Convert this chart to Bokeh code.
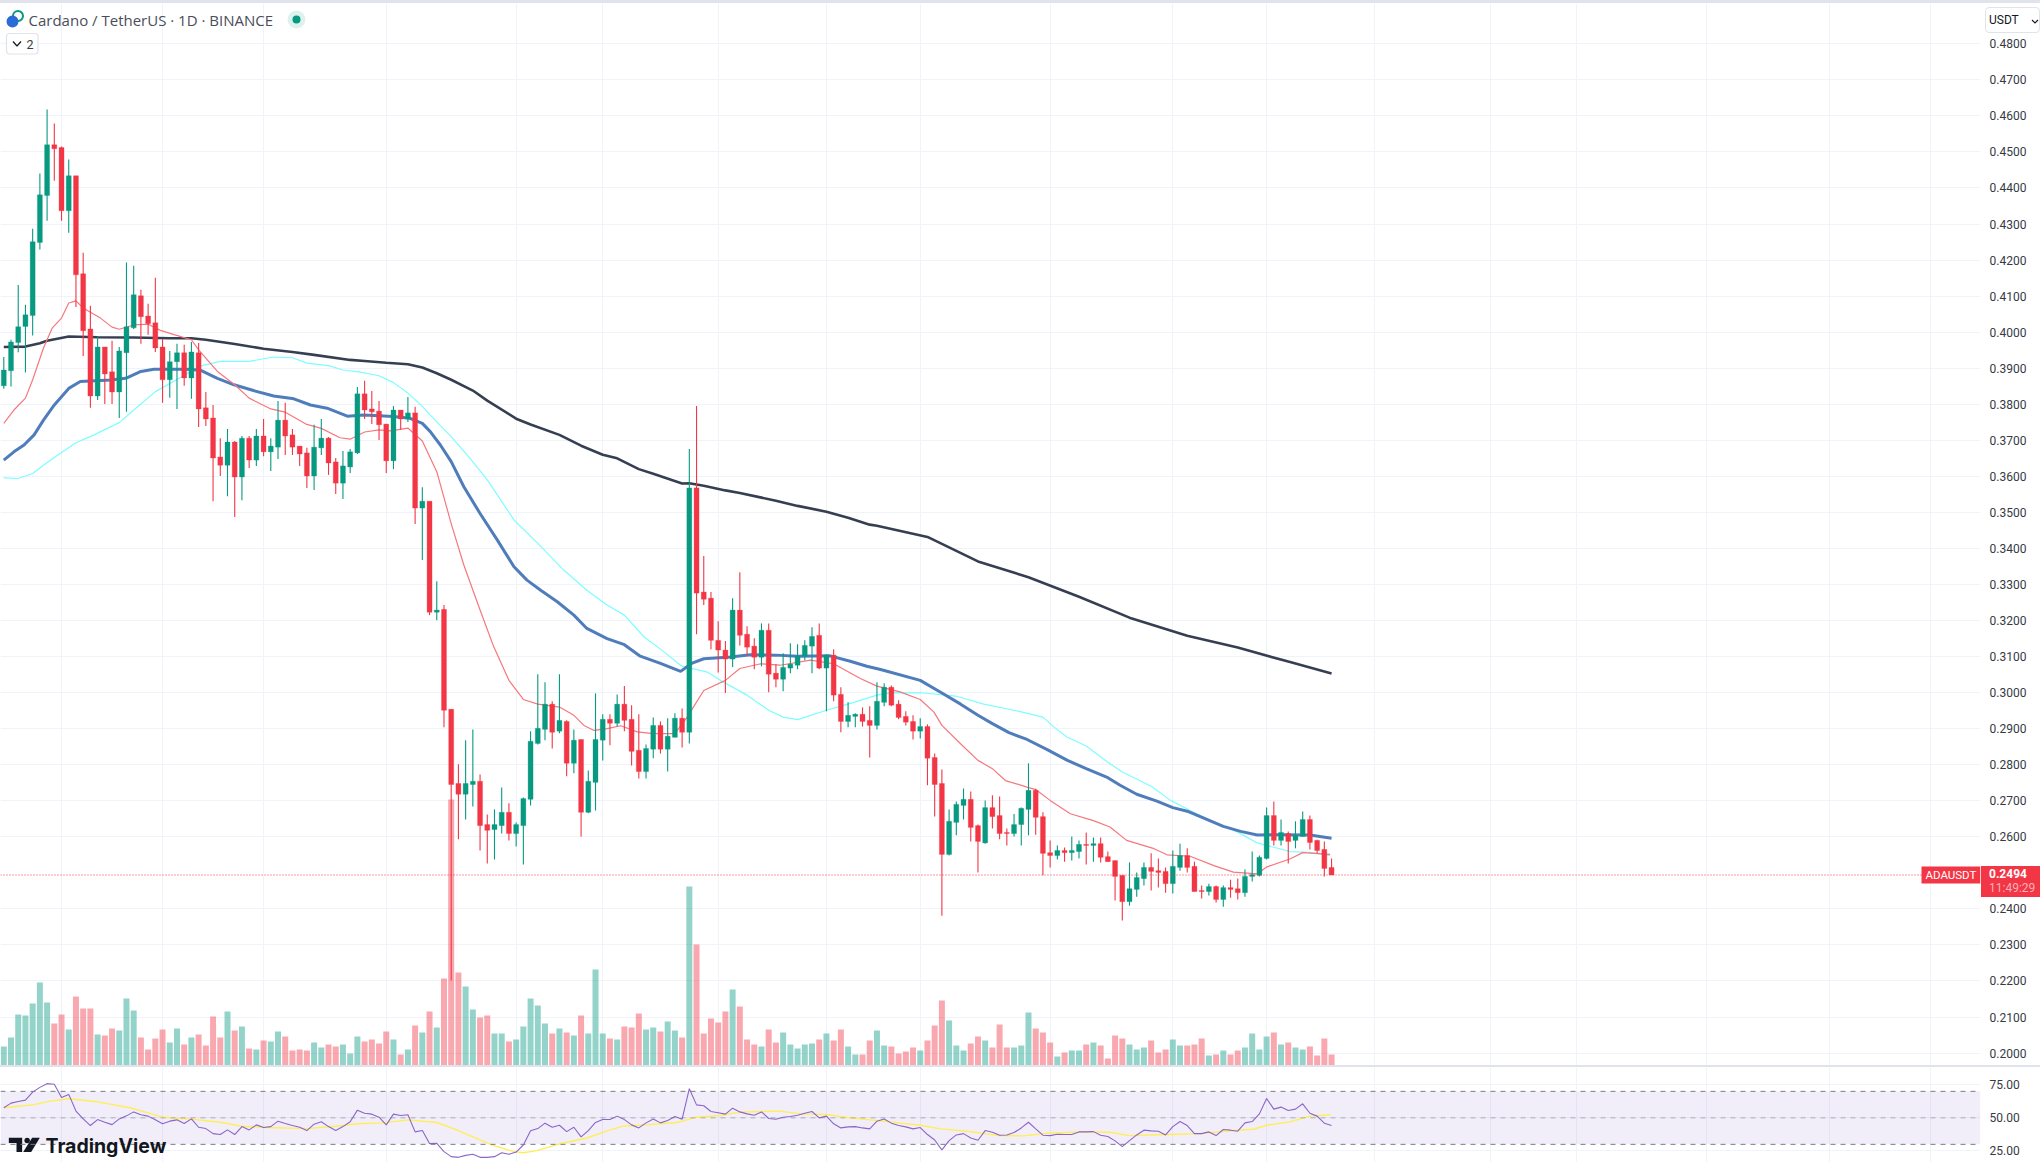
from bokeh.plotting import figure
from bokeh.layouts import column
from bokeh.models import (Range1d, FixedTicker, NumeralTickFormatter, Span, BoxAnnotation, Label, Spacer, Div)
from bokeh.embed import file_html
from bokeh.resources import INLINE
import numpy as np

opens = [.3851,.3893,.3971,.4016,.4046,.4249,.4379,.4520,.4512,.4337,.4434,.4162,.4009,.3823,.3959,.3890,.3834,.3943,.4012,.4101,
 .4045,.4026,.3959,.3868,.3918,.3943,.3873,.3943,.3790,.3762,.3654,.3631,.3695,.3598,.3706,.3645,.3712,.3668,.3681,.3756,
 .3715,.3684,.3665,.3601,.3679,.3706,.3640,.3581,.3626,.3665,.3829,.3787,.3781,.3745,.3643,.3784,.3759,.3776,.3512,.3531,
 .3223,.3231,.2954,.2748,.2718,.2745,.2754,.2634,.2620,.2631,.2668,.2609,.2631,.2704,.2859,.2898,.2968,.2893,.2920,.2804,
 .2870,.2668,.2751,.2868,.2926,.2915,.2968,.2926,.2840,.2781,.2843,.2909,.2843,.2876,.2929,.2890,.3568,.3279,.3262,.3145,
 .3118,.3093,.3229,.3162,.3129,.3098,.3173,.3054,.3037,.3068,.3076,.3101,.3129,.3159,.3068,.3104,.2995,.2920,.2934,.2940,
 .2923,.2909,.2973,.3015,.2968,.2934,.2920,.2893,.2906,.2820,.2748,.2551,.2640,.2687,.2704,.2631,.2583,.2681,.2659,.2612,
 .2609,.2634,.2676,.2729,.2656,.2556,.2548,.2562,.2556,.2559,.2579,.2576,.2581,.2545,.2534,.2493,.2420,.2454,.2484,.2515,
 .2506,.2504,.2470,.2515,.2548,.2518,.2451,.2448,.2462,.2426,.2459,.2456,.2445,.2490,.2493,.2540,.2659,.2590,.2609,.2590,
 .2601,.2648,.2590,.2565,.2515]
highs = [.3931,.3979,.4131,.4076,.4287,.4440,.4618,.4579,.4515,.4479,.4434,.4220,.4073,.3988,.3959,.3976,.3959,.4193,.4184,.4118,
 .4079,.4151,.3981,.3948,.3968,.3965,.3973,.3970,.3834,.3798,.3706,.3731,.3698,.3712,.3712,.3731,.3759,.3706,.3809,.3804,
 .3731,.3684,.3679,.3743,.3759,.3709,.3651,.3670,.3676,.3848,.3865,.3837,.3809,.3745,.3795,.3784,.3820,.3793,.3570,.3531,
 .3309,.3243,.2954,.2801,.2868,.2898,.2773,.2662,.2676,.2737,.2693,.2640,.2709,.2893,.3051,.3029,.2976,.3051,.2923,.2898,
 .2870,.2784,.2998,.2940,.2940,.2995,.3018,.2965,.2940,.2856,.2931,.2920,.2929,.2943,.2956,.3676,.3795,.3379,.3279,.3198,
 .3143,.3262,.3334,.3184,.3151,.3192,.3192,.3079,.3109,.3137,.3134,.3145,.3181,.3192,.3106,.3120,.3015,.2973,.2943,.2959,
 .2962,.3029,.3026,.3020,.2979,.2948,.2937,.2929,.2912,.2831,.2787,.2676,.2698,.2734,.2726,.2634,.2701,.2715,.2712,.2623,
 .2663,.2681,.2804,.2733,.2668,.2590,.2576,.2570,.2601,.2590,.2612,.2598,.2598,.2559,.2534,.2493,.2529,.2501,.2529,.2554,
 .2540,.2515,.2562,.2581,.2568,.2531,.2465,.2470,.2465,.2465,.2481,.2484,.2509,.2559,.2548,.2681,.2698,.2648,.2615,.2643,
 .2670,.2659,.2592,.2587,.2540]
lows = [.3843,.3849,.3944,.3888,.3991,.4229,.4309,.4420,.4309,.4276,.4070,.3934,.3790,.3812,.3801,.3801,.3762,.3779,.4009,.3968,
 .3993,.3945,.3804,.3818,.3787,.3851,.3815,.3737,.3740,.3531,.3601,.3545,.3487,.3534,.3623,.3629,.3656,.3615,.3648,.3659,
 .3659,.3629,.3568,.3562,.3659,.3604,.3551,.3537,.3609,.3662,.3759,.3745,.3701,.3609,.3620,.3729,.3751,.3468,.3368,.3215,
 .3201,.2904,.2201,.2593,.2648,.2684,.2562,.2526,.2537,.2609,.2590,.2573,.2523,.2687,.2856,.2868,.2845,.2887,.2768,.2776,
 .2601,.2665,.2673,.2812,.2854,.2906,.2893,.2798,.2762,.2762,.2818,.2831,.2781,.2876,.2848,.2859,.3162,.3243,.3120,.3056,
 .2999,.3071,.3131,.3103,.3065,.3073,.3001,.3015,.3004,.3054,.3065,.3090,.3054,.3065,.2948,.2976,.2890,.2904,.2904,.2906,
 .2820,.2898,.2962,.2962,.2926,.2909,.2870,.2873,.2743,.2656,.2381,.2548,.2604,.2648,.2587,.2501,.2581,.2623,.2593,.2576,
 .2601,.2576,.2604,.2606,.2493,.2515,.2537,.2531,.2534,.2540,.2523,.2531,.2529,.2531,.2423,.2368,.2409,.2434,.2465,.2451,
 .2459,.2445,.2443,.2506,.2501,.2448,.2429,.2437,.2418,.2406,.2431,.2426,.2434,.2476,.2490,.2537,.2576,.2576,.2526,.2568,
 .2601,.2565,.2554,.2490,.2494]
closes = [.3895,.3973,.4015,.4048,.4251,.4381,.4520,.4509,.4337,.4434,.4159,.4004,.3823,.3959,.3884,.3834,.3948,.4015,.4104,.4043,
 .4023,.3956,.3868,.3918,.3943,.3873,.3945,.3787,.3759,.3651,.3631,.3695,.3598,.3706,.3645,.3712,.3668,.3684,.3756,.3712,
 .3681,.3662,.3601,.3681,.3706,.3637,.3581,.3629,.3668,.3829,.3784,.3779,.3743,.3643,.3784,.3759,.3776,.3512,.3531,.3223,
 .3229,.2951,.2745,.2718,.2748,.2754,.2631,.2618,.2634,.2668,.2609,.2634,.2706,.2865,.2901,.2968,.2890,.2923,.2804,.2868,
 .2668,.2754,.2870,.2926,.2915,.2968,.2923,.2837,.2781,.2845,.2909,.2843,.2879,.2929,.2890,.3568,.3276,.3259,.3145,.3118,
 .3093,.3229,.3159,.3126,.3098,.3173,.3051,.3037,.3070,.3079,.3101,.3131,.3156,.3068,.3104,.2993,.2920,.2937,.2940,.2920,
 .2909,.2976,.3015,.2965,.2931,.2918,.2893,.2906,.2818,.2745,.2551,.2643,.2690,.2704,.2626,.2587,.2681,.2656,.2609,.2609,
 .2634,.2679,.2729,.2654,.2554,.2548,.2562,.2556,.2562,.2579,.2576,.2581,.2543,.2531,.2490,.2420,.2456,.2487,.2515,.2504,
 .2501,.2470,.2518,.2548,.2515,.2448,.2448,.2462,.2426,.2459,.2454,.2445,.2490,.2495,.2543,.2659,.2590,.2612,.2587,.2604,
 .2648,.2584,.2562,.2512,.2494]
volumes = [57,84,153,150,186,249,189,126,153,108,207,171,171,93,90,111,105,201,165,84,
 48,81,108,69,111,63,84,93,60,147,84,162,105,117,51,48,75,72,102,87,
 45,48,45,69,54,63,57,63,36,87,72,78,66,102,78,33,48,120,99,162,
 114,261,798,279,237,168,144,150,96,96,72,78,117,201,180,126,96,111,99,90,
 150,96,288,96,81,78,117,114,156,108,114,102,132,105,84,537,363,96,141,129,
 162,228,177,78,63,57,108,69,99,63,51,63,66,78,96,75,108,57,33,33,
 75,105,60,57,36,42,54,45,75,120,195,135,60,45,66,87,75,54,123,54,
 54,60,159,111,99,69,27,39,45,45,63,69,60,21,90,81,63,48,54,75,
 39,48,78,60,60,63,81,30,33,45,33,45,54,96,48,87,99,63,69,54,
 48,57,30,81,33]

dark_days = [0,3,5,6,9,13,18,23,26,28,32,36,40,43,48,50,53,56,58,60,62,65,67,71,73,77,80,83,85,88,90,94,95,97,100,102,105,107,110,114,117,120,121,128,135,142,149,156,164,171,178,184]
dark_ma = [.3959,.3960,.3969,.3976,.3988,.3986,.3985,.3983,.3983,.3979,.3967,.3954,.3945,.3937,.3923,.3920,.3915,.3911,.3902,.3886,.3868,.3838,.3810,.3760,.3744,.3715,.3685,.3660,.3650,.3620,.3607,.3580,.3581,.3574,.3561,.3554,.3541,.3532,.3518,.3502,.3485,.3466,.3463,.3432,.3364,.3320,.3266,.3208,.3158,.3125,.3086,.3053]
blue_days = [0,1.4,2.8,4.2,5.5,7,9,10.6,14.8,16.9,19,20.8,25.4,27.3,29.6,31.9,34.6,37.4,40.2,42.5,44.8,47.6,49.9,54,56.3,58,59.1,60.5,62,63.75,66,68.4,70.7,72.5,74.4,76.7,79,80.8,83.6,86,88.2,91,93.8,95.4,97,100.7,103.5,107,110,114.5,117.3,119.6,121.5,127,130,132.6,135,137,139.3,141.8,144.6,147.4,150,153,154.7,157,159.8,162,164,166.3,169,171.4,173.7,176,181,184]
blue_ma = [.3645,.3668,.3687,.3715,.3756,.3798,.3844,.3863,.3867,.3872,.3891,.3897,.3897,.3894,.3872,.3854,.3838,.3823,.3815,.3798,.3789,.3767,.3770,.3766,.3761,.3747,.3724,.3687,.3641,.3571,.3497,.3423,.3349,.3312,.3284,.3252,.3215,.3178,.3150,.3133,.3101,.3081,.3059,.3082,.3094,.3099,.3105,.3104,.3101,.3102,.3087,.3073,.3064,.3034,.2999,.2968,.2937,.2914,.2889,.2870,.2842,.2812,.2789,.2764,.2743,.2718,.2699,.2681,.2671,.2652,.2629,.2615,.2605,.2606,.2605,.2596]
cyan_days = [0,2,4,5.5,7,10,12.5,16,17.5,21,24.5,27,30,34,37.4,40,42,45,47,49.4,52,54,56,58,59.1,62,64.7,67,70.7,74,77.6,80.8,83.6,86,88.7,91.5,93.9,97.5,99.3,103,106,108,110,111.8,114,117,121,122.9,127.5,132,135.8,140,144,145.5,147.3,150,153,155,159,161.7,164.4,167.7,171,173.7,176,178.3,181,183.8]
cyan_ma = [.3596,.3594,.3608,.3631,.3652,.3693,.3715,.3749,.3775,.3835,.3874,.3905,.3919,.3919,.3931,.3929,.3914,.3907,.3895,.3889,.3879,.3860,.3831,.3794,.3770,.3710,.3648,.3590,.3479,.3414,.3340,.3284,.3243,.3215,.3155,.3113,.3074,.3057,.3034,.2993,.2951,.2932,.2925,.2937,.2951,.2968,.2993,.3000,.2999,.2990,.2968,.2951,.2932,.2905,.2877,.2852,.2807,.2780,.2740,.2701,.2673,.2641,.2613,.2583,.2571,.2559,.2557,.2548]
red_days = [0,1.4,3,4,5.5,6.7,8,9,10,11,12,13.4,15,16,18,20,21.7,23.6,26,27,29.6,32,34,37,39,42,44,46.6,48,50,52,53.6,56,58,60,62,63.75,66,67.9,70,72,74,77,79,80.4,81.8,83.6,85.5,87.8,90,93,94.7,97,100,102,104.9,107.6,111.8,115,118.7,121,124.2,127,128.9,130,132.8,135,137,138.8,141.8,143,145,147.8,151,153.3,155.6,159.4,161.2,164.4,167.7,170.4,173.7,175,178.3,180,183.8]
red_ma = [.3747,.3784,.3817,.3868,.3956,.4011,.4039,.4081,.4087,.4067,.4055,.4039,.4014,.4008,.4020,.4022,.4005,.3993,.3979,.3951,.3891,.3854,.3817,.3787,.3778,.3744,.3733,.3707,.3703,.3723,.3729,.3726,.3734,.3698,.3613,.3469,.3354,.3229,.3127,.3034,.2981,.2968,.2960,.2937,.2909,.2895,.2900,.2908,.2891,.2886,.2886,.2932,.3006,.3034,.3067,.3080,.3076,.3090,.3080,.3039,.3018,.3002,.2981,.2946,.2909,.2854,.2812,.2789,.2756,.2738,.2731,.2701,.2664,.2645,.2627,.2590,.2567,.2550,.2546,.2520,.2502,.2497,.2516,.2539,.2556,.2551]

rsi = [57.6,61.1,62.4,63.4,69.4,73.0,75.8,75.3,65.4,67.7,55.1,49.2,44.2,48.7,46.7,44.9,49.2,51.5,54.5,52.3,
 51.3,48.5,45.5,47.5,48.5,45.7,49.2,42.9,41.9,38.1,37.4,40.9,37.4,43.4,40.9,44.7,42.7,43.4,47.5,45.7,
 44.2,42.9,40.4,45.2,47.0,43.4,40.4,43.4,47.0,55.8,53.5,52.8,50.5,44.7,52.8,51.8,52.3,39.4,40.4,30.6,
 30.8,24.5,20.7,20.2,21.7,22.5,20.2,20.2,20.7,23.7,22.5,24.2,29.5,40.2,41.9,46.0,42.9,44.4,39.6,42.9,
 35.6,40.4,46.5,48.7,48.7,51.3,48.7,44.7,42.4,46.2,49.2,46.2,48.0,51.0,49.0,72.0,59.8,59.1,54.8,53.8,
 52.8,57.3,54.5,53.0,52.0,54.5,49.5,49.0,50.5,51.0,52.0,53.5,54.8,50.0,51.3,45.5,42.4,43.2,43.4,42.4,
 41.7,47.5,49.2,46.0,44.2,43.2,41.7,42.7,37.4,33.3,25.8,32.8,37.1,38.1,34.8,33.1,40.4,39.1,36.9,37.1,
 38.9,42.4,46.7,41.7,36.9,36.6,37.6,37.4,37.4,39.4,39.4,39.6,36.9,35.9,32.6,28.3,32.8,37.1,40.7,40.2,
 39.9,37.1,43.4,47.2,44.2,38.1,38.1,39.4,36.6,41.2,40.7,39.9,46.2,47.2,53.0,64.6,56.6,58.1,55.6,56.6,
 60.6,53.5,51.3,46.0,44.2]
rsi_ma_days = [0,2,4,6.5,9,13,17.5,20,22,26,30,33,36.5,42,46,49,52.7,56,60,62.4,66,67.9,70.7,72,73.9,77,80.8,83.6,85.9,89,93.3,96,99.3,102,107.6,110.4,114,116.9,121.5,127,129.8,133.5,138,141.3,144.6,149.2,153.3,156,161.2,165.8,170.4,173.2,175,178.2,181,183.9]
rsi_ma = [57.6,58.8,59.8,62.6,64.4,62.1,57.6,53.8,50.5,49.0,46.7,43.7,42.7,41.9,43.7,45.5,46.2,48.5,46.5,41.7,33.3,29.0,24.5,23.7,25.3,30.3,34.8,40.2,43.9,44.7,46.5,50.5,51.8,54.3,55.1,53.0,52.5,50.3,47.7,44.4,41.7,39.9,36.6,36.4,38.4,39.4,39.1,36.6,37.4,38.1,40.4,41.4,44.4,47.0,51.3,52.3]

price_ticks = [.20,.21,.22,.23,.24,.26,.27,.28,.29,.30,.31,.32,.33,.34,.35,.36,.37,.38,.39,.40,.41,.42,.43,.44,.45,.46,.47,.48]
rsi_ticks = [25, 50, 75]
date_grid_days = [8,22,36,53,71,83,99,114,127,145,162,175,190,206,218,236,253,267]
last_price = 0.2494

assert all(len(a) == 185 for a in (opens, highs, lows, closes, volumes, rsi))
assert len(dark_days)==len(dark_ma) and len(blue_days)==len(blue_ma) and len(cyan_days)==len(cyan_ma) and len(red_days)==len(red_ma) and len(rsi_ma_days)==len(rsi_ma)

UP, DOWN = "#089981", "#f23645"
GRID = "#f0f3fa"
TXT = "#363a45"
days = np.arange(185)
o, h, l, c = map(np.array, (opens, highs, lows, closes))
up = c >= o
colors = [UP if u else DOWN for u in up]

def style_axis(a, ticks, fmt):
    a.ticker = FixedTicker(ticks=ticks)
    a.formatter = NumeralTickFormatter(format=fmt)
    a.axis_line_color = None
    a.major_tick_line_color = None
    a.minor_tick_line_color = None
    a.major_label_standoff = 3
    a.major_label_text_font = "Roboto"
    a.major_label_text_font_size = "12px"
    a.major_label_text_color = TXT

x_rng = (-0.457, 273.93)
p = figure(width=2040, height=1062, x_range=x_rng, y_range=(0.19655, 0.49118), y_axis_location="right",
           toolbar_location=None, output_backend="svg", min_border=0, min_border_right=60,
           outline_line_color=None, background_fill_color="white", tools="")
p.xaxis.visible = False
p.extra_y_ranges = {"vol": Range1d(0, 3186)}
p.xgrid.ticker = FixedTicker(ticks=date_grid_days)
p.ygrid.ticker = FixedTicker(ticks=price_ticks)
p.xgrid.grid_line_color = GRID
p.ygrid.grid_line_color = GRID
style_axis(p.yaxis[0], price_ticks, "0.0000")

p.vbar(days, 0.83, volumes, 0, y_range_name="vol", fill_color=colors, fill_alpha=0.43, line_color=None)
p.line(cyan_days, cyan_ma, line_color="#7dfdff", line_width=1.2)
p.line(dark_days, dark_ma, line_color="#363f52", line_width=2.6)
p.line(blue_days, blue_ma, line_color="#4f7dbb", line_width=3)
p.line(red_days, red_ma, line_color="#f6777c", line_width=1.2)
p.add_layout(Span(location=last_price, dimension="width", line_color=DOWN, line_dash="1 2", line_width=1.2))
p.segment(days, l, days, h, line_color=colors, line_width=1.1)
p.vbar(days, 0.69, np.maximum(o, c), np.minimum(o, c), fill_color=colors, line_color=colors, line_width=0.3)

def box(l_, t, r, b, lvl="overlay", **kw):
    a = dict(fill_color="white", fill_alpha=1, line_color=None, line_alpha=1)
    a.update(kw)
    return BoxAnnotation(left=l_, right=r, top=t - 3, bottom=b - 3, left_units="canvas", right_units="canvas",
                         top_units="canvas", bottom_units="canvas", level=lvl, **a)
def lab(x, y, text, lvl="overlay", **kw):
    a = dict(text_font="Roboto", text_font_size="11.5px", text_color=TXT, text_baseline="middle")
    a.update(kw)
    return Label(x=x, y=y - 3, x_units="canvas", y_units="canvas", text=text, level=lvl, **a)

p.add_layout(box(1921, 866, 1980, 883, fill_color=DOWN))
p.add_layout(lab(1925, 874.5, "ADAUSDT", text_color="white", text_font_size="11.5px"))

# header
p.add_layout(lab(28, 19.5, "Cardano / TetherUS · 1D · BINANCE", text_font="Open Sans", text_font_size="15px", text_color="#4a4e5a"))
p.add_layout(box(6, 33, 37.5, 53.5, lvl="annotation", line_color="#e0e3eb", line_width=1.2, border_radius=3))
p.add_layout(lab(26, 43.5, "2", text_font_size="12.5px"))

def ix(px): return (px - 3.3) / 7.216
def py(y): return 0.48 - (y - 43.3) / 3604.5
p.line([ix(12.5), ix(16.5), ix(20.5)], [py(41), py(45.5), py(41)], line_color="#131722", line_width=1.2, level="overlay")
p.scatter([ix(296)], [py(19)], size=18, fill_color="#dff1ee", line_color=None)
p.scatter([ix(296)], [py(19)], size=8, fill_color=UP, line_color=None)
p.scatter([ix(17.5)], [py(15.5)], size=10, fill_color="white", line_color=UP, line_width=2)
p.scatter([ix(12)], [py(21)], size=12, fill_color="#2a6bd6", line_color=None)

# RSI pane
q = figure(width=2040, height=95, x_range=p.x_range, y_range=(16.3, 88), y_axis_location="right",
           toolbar_location=None, output_backend="svg", min_border=0, min_border_right=60,
           outline_line_color=None, tools="")
q.xaxis.visible = False
q.xgrid.ticker = FixedTicker(ticks=date_grid_days)
q.ygrid.ticker = FixedTicker(ticks=rsi_ticks)
q.xgrid.grid_line_color = GRID
q.ygrid.grid_line_color = GRID
style_axis(q.yaxis[0], rsi_ticks, "0.00")
q.add_layout(BoxAnnotation(bottom=30, top=70, fill_color="#7e57c2", fill_alpha=0.1, line_color=None, level="underlay"))
for lvl, al in ((70, 1), (50, .55), (30, 1)):
    q.add_layout(Span(location=lvl, dimension="width", line_color="#787b86", line_dash="5 5", line_width=1, line_alpha=al))
q.line(rsi_ma_days, rsi_ma, line_color="#ffee58", line_width=1.4)
q.line(days, rsi, line_color="#7e57c2", line_width=1.1, line_alpha=.9)

def qy(y): return 50 - (y - 1117.4) / 1.326
dark = "#131722"
zx = lambda v: ix(v / 3)
zy = lambda v: qy(950 + v / 3)
q.patch([zx(v) for v in (25, 65, 65, 48, 48, 25)], [zy(v) for v in (562, 562, 605, 605, 578, 578)], fill_color=dark, line_color=None)
q.patch([zx(v) for v in (95, 118, 92, 68)], [zy(v) for v in (562, 562, 605, 605)], fill_color=dark, line_color=None)
q.scatter([zx(80)], [zy(570)], size=5.5, fill_color=dark, line_color=None)
q.add_layout(Label(x=45, y=1145 - 1067, x_units="canvas", y_units="canvas", text="TradingView", text_font="Inter",
                   text_font_style="bold", text_font_size="19.5px", text_color=dark, text_baseline="middle",
                   level="overlay"))

# tags that sit over the price scale
base = {"position": "absolute", "font-family": "Roboto", "font-size": "12px", "line-height": "14px", "box-sizing": "border-box"}
price_tag = Div(text='<div style="font-weight:bold;color:#fff">0.2494</div><div style="color:#fbb0b5">11:49:29</div>',
                width=59, height=31, margin=0,
                styles={**base, "left": "1981px", "top": "866px", "background-color": DOWN, "padding": "1px 0 0 8px"})
unit_tag = Div(text='<span style="color:#131722">USDT</span>'
                    '<svg width="8" height="5" style="position:absolute;left:45px;top:11px"><polyline points="1,1 4,4 7,1" fill="none" stroke="#131722" stroke-width="1.1"/></svg>',
               width=55, height=26, margin=0,
               styles={**base, "left": "1985px", "top": "7px", "background-color": "white", "border": "1px solid #e0e3eb",
                       "border-radius": "4px", "padding": "5px 0 0 3px"})

top = Spacer(width=2040, height=3, styles={"background-color": "#e0e3eb"})
sep = Spacer(width=2040, height=2, styles={"background-color": "#e0e3eb"})
page = column(top, p, sep, q, price_tag, unit_tag, spacing=0, styles={"position": "relative"})
open("out.html", "w").write(file_html(page, INLINE))
